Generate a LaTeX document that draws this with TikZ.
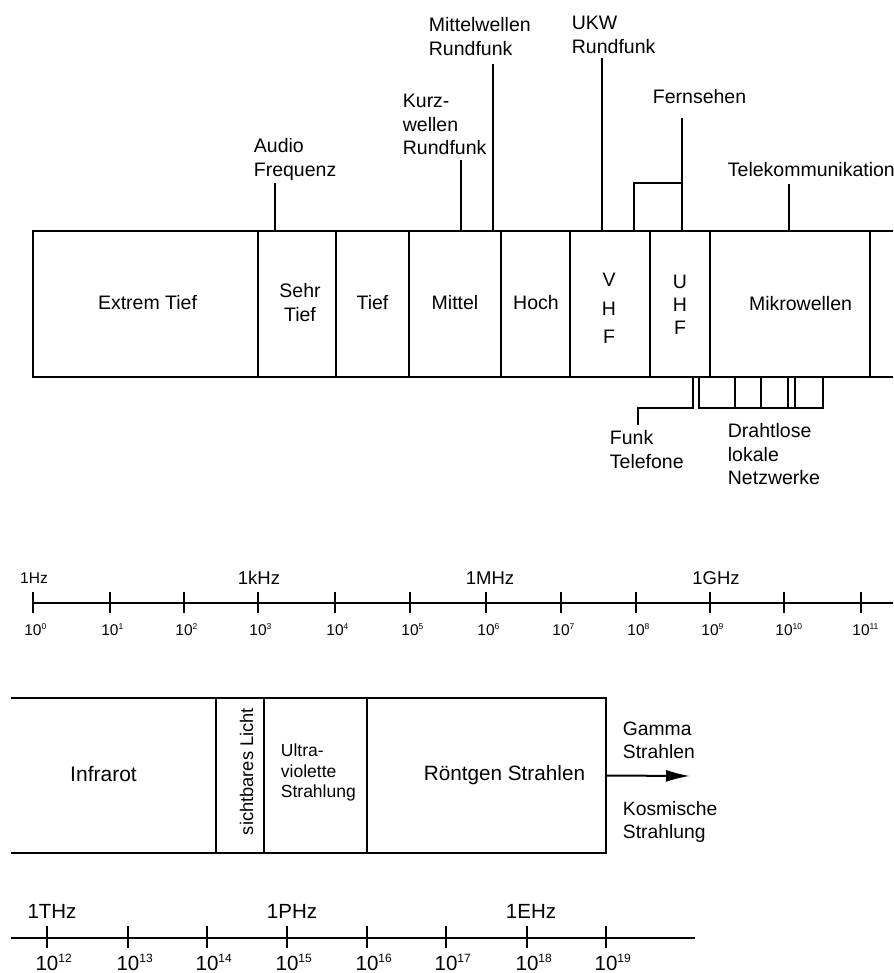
\documentclass[tikz,border=0pt]{standalone}
\usepackage{fontspec}
\setmainfont{Liberation Sans}
\usetikzlibrary{arrows.meta}
\newcommand\fA{\fontsize{19.5}{23.5}\selectfont}
\newcommand\supA[1]{\rlap{\raisebox{6pt}{\fontsize{8.5}{9}\selectfont #1}}}
\newcommand\supB[1]{\rlap{\raisebox{8pt}{\fontsize{12}{13}\selectfont #1}}}
\begin{document}
\begin{tikzpicture}[x=1pt,y=-1pt,line width=1.8pt,line join=miter,
  cell/.style={draw,inner sep=0pt,outer sep=0pt,minimum height=146pt,anchor=north west},
  lcell/.style={draw,inner sep=0pt,outer sep=0pt,minimum height=155pt,anchor=north west,line width=2.3pt},
  conn/.style={line width=1.6pt},
  lbl/.style={inner sep=0pt,font=\fA},
  mlbl/.style={lbl,anchor=north west,align=left},
  numA/.style={inner sep=0pt,anchor=base,font=\fontsize{15.5}{18}\selectfont},
  numB/.style={inner sep=0pt,anchor=base,font=\fontsize{20.5}{24}\selectfont},
  thickline/.style={line width=2.3pt}]
\useasboundingbox (0,0) rectangle (893,973);
\clip (0,0) rectangle (893,973);

% ---------- upper band ----------
\node[cell,minimum width=225pt] (et) at (33,231) {};
\node[cell,minimum width=78pt]  (st) at (258,231) {};
\node[cell,minimum width=73pt]  (ti) at (336,231) {};
\node[cell,minimum width=92pt]  (mi) at (409,231) {};
\node[cell,minimum width=69pt]  (ho) at (501,231) {};
\node[cell,minimum width=80pt]  (vh) at (570,231) {};
\node[cell,minimum width=60pt]  (uh) at (650,231) {};
\node[cell,minimum width=160pt] (mw) at (710,231) {};
\coordinate (edgeT) at (895,231);
\coordinate (edgeB) at (895,377);
\draw (mw.north east) -- (edgeT);
\draw (mw.south east) -- (edgeB);

\node[lbl,anchor=base] (etT) at (147.5,309) {Extrem Tief};
\node[lbl,align=center] (stT) at (300,302.5) {Sehr\\Tief};
\node[lbl,anchor=base] (tiT) at (372.5,309) {Tief};
\node[lbl,anchor=base] (miT) at (455,309) {Mittel};
\node[lbl,anchor=base] (hoT) at (536,309) {Hoch};
\node[lbl,align=center,font=\fontsize{19.5}{28.5}\selectfont] (vhT) at (609,308.5) {V\\H\\F};
\node[lbl,align=center,font=\fontsize{19.5}{23}\selectfont] (uhT) at (680,305) {U\\H\\F};
\node[lbl,anchor=base] (mwT) at (800.5,310) {Mikrowellen};

% labels above
\node[mlbl] (mwr) at (428,14.5) {\strut Mittelwellen\\Rundfunk};
\node[mlbl] (ukw) at (571,12.5) {\strut UKW\\Rundfunk};
\node[mlbl] (kw)  at (402,90.5) {\strut Kurz-\\wellen\\Rundfunk};
\node[mlbl] (af)  at (253,135.5) {\strut Audio\\Frequenz};
\node[lbl,anchor=base west] (fs) at (652,104) {Fernsehen};
\node[lbl,anchor=base west] (tk) at (727,177) {Telekommunikation};

\coordinate (afL) at (275,183);
\draw[conn] (afL) -- (afL |- st.north);
\coordinate (kwL) at (461,160);
\draw[conn] (kwL) -- (kwL |- mi.north);
\coordinate (mwL) at (493,64);
\draw[conn] (mwL) -- (mwL |- mi.north);
\coordinate (ukL) at (602,58);
\draw[conn] (ukL) -- (ukL |- vh.north);
\coordinate (fsL) at (682,118);
\coordinate (fsK) at (682,183);
\coordinate (fsJ) at (634,183);
\draw[conn] (fsL) -- (fsL |- uh.north);
\draw[conn] (fsK) -- (fsJ) -- (fsJ |- vh.north);
\coordinate (tkL) at (789,184);
\draw[conn] (tkL) -- (tkL |- mw.north);

% labels below
\node[mlbl] (ft) at (609,427.5) {\strut Funk\\Telefone};
\node[mlbl] (wl) at (727,420.5) {\strut Drahtlose\\lokale\\Netzwerke};
\coordinate (fA) at (693,408);
\coordinate (fB) at (638,408);
\coordinate (fC) at (638,425);
\draw[conn] (fA |- uh.south) -- (fA) -- (fB) -- (fC);
\coordinate (wA) at (699,408);
\coordinate (wB) at (823,408);
\draw[conn] (wA |- uh.south) -- (wA) -- (wB) -- (wB |- mw.south);
\foreach \x in {735,761,788,795} {
  \coordinate (wc) at (\x,408);
  \draw[conn] (wc) -- (wc |- mw.south);
}

% ---------- upper axis ----------
\coordinate (a1s) at (33,603);
\coordinate (a1e) at (895,603);
\draw (a1s) -- (a1e);
\foreach \x/\n in {33/0,110/1,184/2,258/3,335/4,410/5,486/6,561/7,636/8,710/9,784/10,861/11} {
  \coordinate (ta\n) at (\x,603);
  \draw ([yshift=11pt]ta\n) -- ([yshift=-10pt]ta\n);
  \node[numA] (na\n) at (\x,635) {10\supA{\n}};
}
\node[inner sep=0pt,anchor=base,font=\fontsize{15.5}{18}\selectfont] (hz) at (34,583.5) {1Hz};
\node[inner sep=0pt,anchor=base,font=\fontsize{18.5}{22}\selectfont] (khz) at (259,584.5) {1kHz};
\node[inner sep=0pt,anchor=base,font=\fontsize{18.5}{22}\selectfont] (mhz) at (490,584.5) {1MHz};
\node[inner sep=0pt,anchor=base,font=\fontsize{18.5}{22}\selectfont] (ghz) at (716,584.5) {1GHz};

% ---------- lower band ----------
\node[lcell,minimum width=48pt]  (vis) at (216,698) {};
\node[lcell,minimum width=103pt] (uv)  at (264,698) {};
\node[lcell,minimum width=239pt] (xr)  at (367,698) {};
\coordinate (irTop) at (11,698);
\coordinate (irBot) at (11,853);
\draw[thickline] (irTop) -- (vis.north west);
\draw[thickline] (irBot) -- (vis.south west);

\node[lbl,anchor=base,font=\fontsize{21}{25}\selectfont] (irT) at (103.5,781) {Infrarot};
\node[lbl,anchor=base,rotate=90,font=\fontsize{18.3}{22}\selectfont] (visT) at (253,771.5) {sichtbares Licht};
\node[mlbl,font=\fontsize{17.5}{20.5}\selectfont] (uvT) at (280,741.7) {\strut Ultra-\\violette\\Strahlung};
\node[lbl,anchor=base,font=\fontsize{20.7}{25}\selectfont] (xrT) at (504.5,780.5) {Röntgen Strahlen};

\coordinate (arrE) at (690,776);
\draw[line width=2pt,-{Latex[length=24pt,width=12pt]}] (xr.east) -- (arrE);
\node[mlbl,font=\fontsize{19.3}{22.5}\selectfont] (gT) at (622,719) {\strut Gamma\\Strahlen};
\node[mlbl,font=\fontsize{19.3}{23}\selectfont] (kT) at (622,798) {\strut Kosmische\\Strahlung};

% ---------- lower axis ----------
\coordinate (a2s) at (11,938);
\coordinate (a2e) at (695,938);
\draw[thickline] (a2s) -- (a2e);
\foreach \x/\n in {47/12,128/13,207/14,287/15,367/16,446/17,527/18,606/19} {
  \coordinate (tb\n) at (\x,938);
  \draw[thickline] ([yshift=12pt]tb\n) -- ([yshift=-10pt]tb\n);
  \node[numB] (nb\n) at (\x,970) {10\supB{\n}};
}
\node[inner sep=0pt,anchor=base,font=\fontsize{20.5}{24}\selectfont] (thz) at (52,918) {1THz};
\node[inner sep=0pt,anchor=base,font=\fontsize{20.5}{24}\selectfont] (phz) at (292,918) {1PHz};
\node[inner sep=0pt,anchor=base,font=\fontsize{20.5}{24}\selectfont] (ehz) at (531,918) {1EHz};
\end{tikzpicture}
\end{document}
